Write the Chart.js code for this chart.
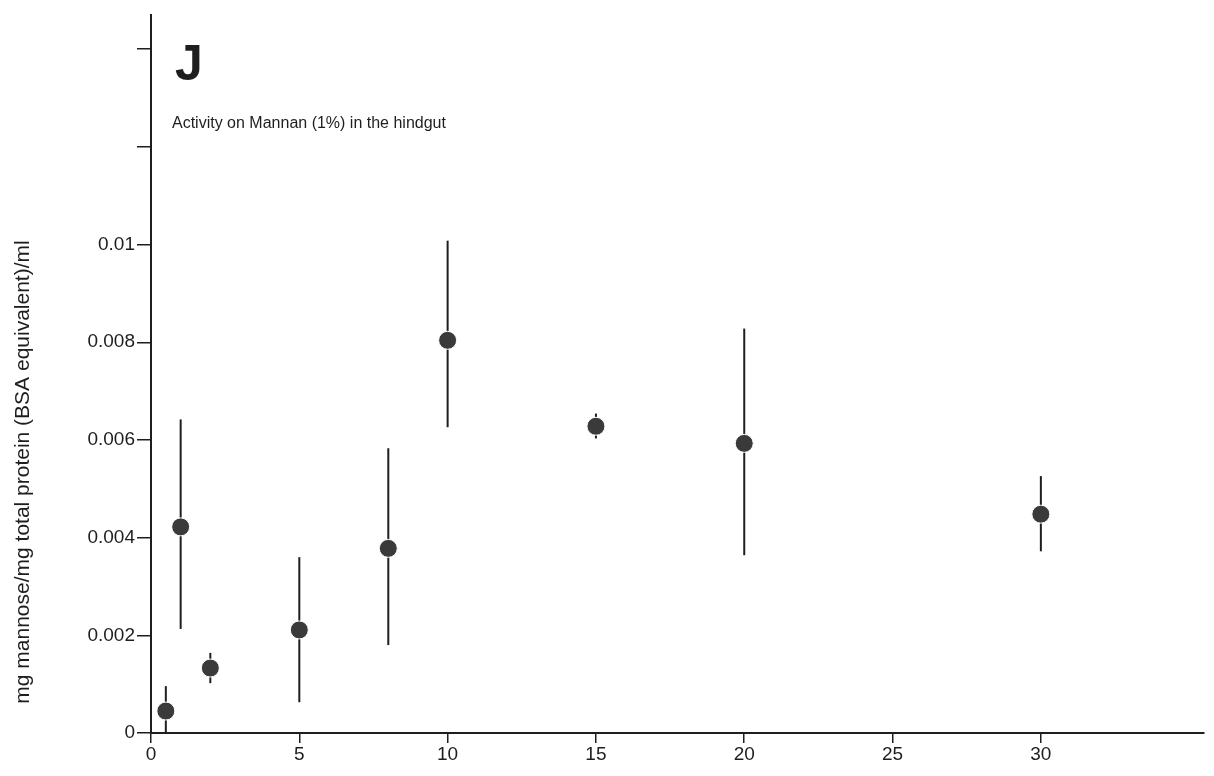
<!DOCTYPE html>
<html>
<head>
<meta charset="utf-8">
<script src="https://cdn.jsdelivr.net/npm/chart.js@4/dist/chart.umd.min.js"></script>
<style>
  html, body { margin: 0; padding: 0; background: #fff; }
  #wrap { width: 1214px; height: 776px; }
</style>
</head>
<body>
<div id="wrap"><canvas id="mannan"></canvas></div>
<script>
// days (x) and activity values
var days = [0.5, 1, 2, 5, 8, 10, 15, 20, 30];
var activity = [0.00045, 0.00422, 0.00133, 0.00211, 0.00378, 0.00804, 0.00628, 0.00593, 0.00448];
var errLow = [0.0, 0.00213, 0.00102, 0.00063, 0.0018, 0.00626, 0.00603, 0.00364, 0.00372];
var errHigh = [0.00096, 0.00642, 0.00164, 0.0036, 0.00583, 0.01008, 0.00654, 0.00828, 0.00526];
var xTicks = [0, 5, 10, 15, 20, 25, 30];
var yTicks = [0, 0.002, 0.004, 0.006, 0.008, 0.01, 0.012, 0.014];
var yLabeled = [0, 0.002, 0.004, 0.006, 0.008, 0.01];

var panelLetter = 'J';
var panelTitle = 'Activity on Mannan (1%) in the hindgut';
var yTitle = 'mg mannose/mg total protein (BSA equivalent)/ml';

var ink = '#1e1e1e';
var font = '"Liberation Sans", Arial, sans-serif';

var points = days.map(function (d, i) { return { x: d, y: activity[i] }; });

// vertical error bars, drawn under the dots
var errorBars = {
	id: 'errorBars',
	beforeDatasetsDraw: function (chart) {
		var ctx = chart.ctx, xs = chart.scales.x, ys = chart.scales.y;
		ctx.save();
		ctx.strokeStyle = ink;
		ctx.lineWidth = 2;
		for (var i = 0; i < days.length; i++) {
			var px = xs.getPixelForValue(days[i]);
			ctx.beginPath();
			ctx.moveTo(px, ys.getPixelForValue(errHigh[i]));
			ctx.lineTo(px, ys.getPixelForValue(errLow[i]));
			ctx.stroke();
		}
		ctx.restore();
	}
};

// panel letter, caption and the rotated y title
var labels = {
	id: 'labels',
	afterDraw: function (chart) {
		var ctx = chart.ctx, area = chart.chartArea;
		ctx.save();
		ctx.fillStyle = ink;
		ctx.textBaseline = 'alphabetic';
		ctx.textAlign = 'left';
		ctx.font = 'bold 50px ' + font;
		ctx.fillText(panelLetter, area.left + 24, 80);
		ctx.font = '16px ' + font;
		ctx.fillText(panelTitle, area.left + 21, 128);

		ctx.translate(23, 472);
		ctx.rotate(-Math.PI / 2);
		ctx.textAlign = 'center';
		ctx.textBaseline = 'middle';
		ctx.font = '21px ' + font;
		ctx.fillText(yTitle, 0, 0);
		ctx.restore();
	}
};

new Chart(document.getElementById('mannan').getContext('2d'), {
	type: 'scatter',
	data: {
		datasets: [{
			label: 'Mannan',
			data: points,
			pointRadius: 9,
			pointHoverRadius: 9,
			pointBackgroundColor: '#3a3a3a',
			pointBorderColor: '#fff',
			pointBorderWidth: 1
		}]
	},
	options: {
		responsive: true,
		maintainAspectRatio: false,
		animation: false,
		layout: { padding: { top: 15, right: 8, left: 0, bottom: 0 } },
		plugins: {
			legend: { display: false },
			tooltip: { enabled: false }
		},
		scales: {
			x: {
				type: 'linear',
				min: 0,
				max: 35.5,
				afterBuildTicks: function (scale) {
					scale.ticks = xTicks.map(function (v) { return { value: v }; });
				},
				afterFit: function (scale) { scale.height = 43; },
				border: { display: true, color: ink, width: 2 },
				grid: { drawOnChartArea: false, drawTicks: true, tickLength: 10, color: ink, lineWidth: 1.5 },
				ticks: {
					color: ink,
					padding: 0,
					maxRotation: 0,
					font: { family: font, size: 19 },
					callback: function (v) { return String(v); }
				}
			},
			y: {
				type: 'linear',
				min: 0,
				max: 0.0147,
				afterBuildTicks: function (scale) {
					scale.ticks = yTicks.map(function (v) { return { value: v }; });
				},
				afterFit: function (scale) { scale.width = 151; },
				border: { display: true, color: ink, width: 2 },
				grid: { drawOnChartArea: false, drawTicks: true, tickLength: 14, color: ink, lineWidth: 1.5 },
				ticks: {
					color: ink,
					padding: 2,
					font: { family: font, size: 19 },
					callback: function (v) {
						var r = parseFloat(v.toFixed(3));
						return yLabeled.indexOf(r) >= 0 ? String(r) : '';
					}
				}
			}
		}
	},
	plugins: [errorBars, labels]
});
</script>
</body>
</html>
